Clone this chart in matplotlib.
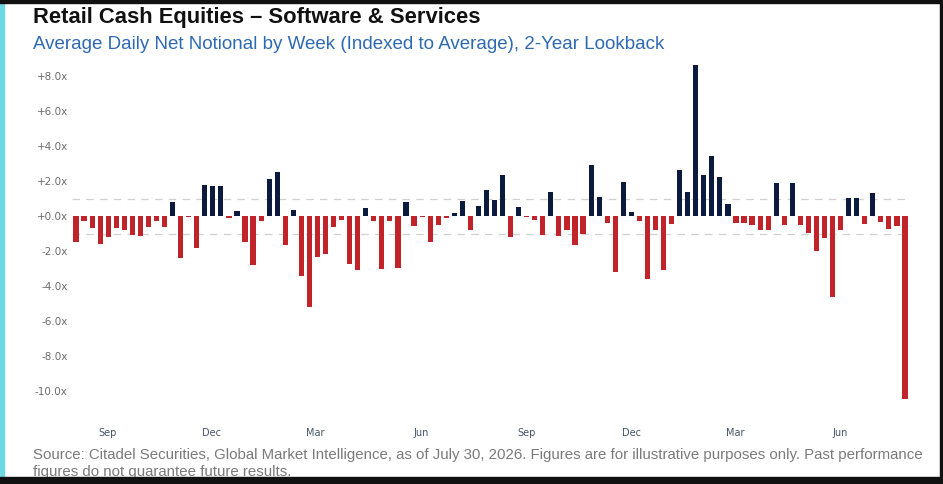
import numpy as np
import pandas as pd
import matplotlib
matplotlib.use("Agg")
import matplotlib.pyplot as plt
import matplotlib.dates as mdates
from matplotlib.patches import Rectangle

TITLE = "Retail Cash Equities \u2013 Software & Services"
SUBTITLE = "Average Daily Net Notional by Week (Indexed to Average), 2-Year Lookback"
SOURCE = ("Source: Citadel Securities, Global Market Intelligence, as of July 30, 2026. Figures are for illustrative purposes only. Past performance\n"
          "figures do not guarantee future results.")

# weekly net notional, indexed to average (x)
weeks = pd.date_range(end="2026-07-27", periods=104, freq="W-MON")
values = [
    -1.5, -0.25, -0.65, -1.6, -1.2, -0.65, -0.8, -1.05, -1.15, -0.6,
    -0.25, -0.6, 0.8, -2.4, -0.07, -1.85, 1.8, 1.7, 1.75, -0.08,
    0.3, -1.5, -2.8, -0.3, 2.1, 2.55, -1.65, 0.35, -3.4, -5.2,
    -2.35, -2.15, -0.6, -0.2, -2.75, -3.1, 0.48, -0.28, -3.0, -0.28,
    -2.95, 0.82, -0.55, -0.05, -1.5, -0.5, -0.1, 0.2, 0.85, -0.77,
    0.58, 1.5, 0.9, 2.33, -1.2, 0.55, -0.05, -0.2, -1.05, 1.37,
    -1.15, -0.77, -1.67, -1.0, 2.95, 1.12, -0.38, -3.2, 1.96, 0.25,
    -0.29, -3.6, -0.8, -3.1, -0.46, 2.65, 1.37, 8.65, 2.33, 3.46,
    2.23, 0.67, -0.37, -0.37, -0.52, -0.8, -0.8, 1.88, -0.52, 1.9,
    -0.52, -0.96, -2.0, -1.23, -4.6, -0.77, 1.02, 1.02, -0.46, 1.35,
    -0.33, -0.73, -0.58, -10.45,
]
yticks = [8, 6, 4, 2, 0, -2, -4, -6, -8, -10]
ytick_labels = ["+8.0x", "+6.0x", "+4.0x", "+2.0x", "+0.0x", "-2.0x", "-4.0x", "-6.0x", "-8.0x", "-10.0x"]

NAVY = "#0c1a3d"
RED = "#c1232b"

W, H = 943, 484
fig = plt.figure(figsize=(W / 100, H / 100), dpi=100)
fig.patch.set_facecolor("white")

ax = fig.add_axes([72 / W, 1 - 417 / H, (909 - 72) / W, (417 - 59) / H])
vals = np.array(values)
colors = [NAVY if v >= 0 else RED for v in vals]
ax.bar(weeks, vals, width=4.5, color=colors, zorder=3)

for lvl in (1, -1):
    ax.axhline(lvl, color="#d0d0d0", lw=0.9, ls=(0, (6, 5)), zorder=1)

ax.set_xlim(weeks[0] - pd.Timedelta(days=3.5), weeks[-1] + pd.Timedelta(days=3.5))
ax.set_ylim(-11.5, 9.0)
ax.set_yticks(yticks)
ax.set_yticklabels(ytick_labels)
ax.xaxis.set_major_locator(mdates.MonthLocator(bymonth=[3, 6, 9, 12]))
ax.xaxis.set_major_formatter(mdates.DateFormatter("%b"))
ax.tick_params(axis="y", length=0, pad=3, labelsize=7.5, labelcolor="#6b6b6b")
ax.tick_params(axis="x", length=0, pad=8, labelsize=7, labelcolor="#44546a")
for s in ax.spines.values():
    s.set_visible(False)

fig.text(33 / W, 1 - 7 / H, TITLE, fontsize=15.8, fontweight="bold", color="#111111",
         family="Liberation Sans", va="top", ha="left")
fig.text(33 / W, 1 - 36 / H, SUBTITLE, fontsize=13.5, color="#2e6ab3",
         family="Liberation Sans", va="top", ha="left")
fig.text(33 / W, 1 - 448 / H, SOURCE, fontsize=10.8, color="#7a7a7a",
         family="Liberation Sans", va="top", ha="left", linespacing=1.3)

# screenshot frame: cyan left edge, dark top/right/bottom edges
fig.patches.append(Rectangle((0, 0), 4 / W, 1, transform=fig.transFigure, color="#6fd9e2", zorder=10))
fig.patches.append(Rectangle((0, 1 - 2.5 / H), 1, 2.5 / H, transform=fig.transFigure, color="#111111", zorder=10))
fig.patches.append(Rectangle((1 - 3 / W, 0), 3 / W, 1, transform=fig.transFigure, color="#111111", zorder=10))
fig.patches.append(Rectangle((0, 0), 1, 7 / H, transform=fig.transFigure, color="#111111", zorder=10))

fig.savefig("out.png", dpi=100)
